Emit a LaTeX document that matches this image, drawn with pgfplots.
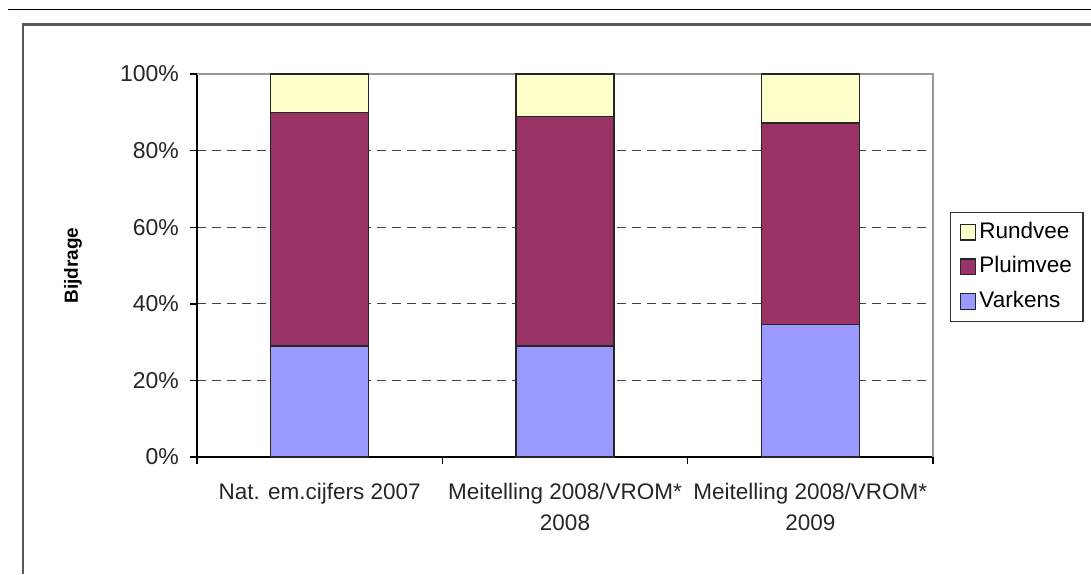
\documentclass[border=0pt]{standalone}
\usepackage{fontspec}
\setmainfont{Liberation Sans}
\usepackage{pgfplots}
\pgfplotsset{compat=1.18}
\definecolor{varkens}{HTML}{9999FF}
\definecolor{pluim}{HTML}{993366}
\definecolor{rund}{HTML}{FFFFCC}
\begin{document}
\begin{tikzpicture}
\useasboundingbox (0,0) rectangle (545.5pt,-287pt);
\draw[black, line width=0.9pt] (4pt,-4.75pt) -- (545.5pt,-4.75pt);
\draw[black!65, line width=1.1pt] (11.5pt,-287pt) -- (11.5pt,-12.25pt) -- (545.5pt,-12.25pt);
\begin{axis}[
  at={(98.5pt,-228.5pt)}, anchor=south west,
  scale only axis, width=368pt, height=191.5pt,
  clip=false,
  xmin=-0.5, xmax=2.5, ymin=0, ymax=100,
  axis x line*=bottom, axis y line*=left,
  axis line style={-, black, line width=0.7pt},
  tick align=outside,
  xtick={0,1,2},
  xticklabels={Nat. em.cijfers 2007, Meitelling 2008/VROM*\\2008, Meitelling 2008/VROM*\\2009},
  major x tick style={draw=none},
  minor xtick={-0.5,0.5,1.5,2.5},
  minor tick length=3.5pt, major tick length=3.5pt,
  tick style={black, line width=0.7pt},
  x tick label style={align=center, font=\fontsize{11.25}{15.5}\selectfont, text=black!85, yshift=-6pt},
  ytick={0,20,40,60,80,100},
  yticklabel={\pgfmathprintnumber{\tick}\%},
  y tick label style={font=\fontsize{11.5}{13}\selectfont, text=black!85, xshift=-2pt},
  /pgf/number format/assume math mode=true,
  ymajorgrids,
  grid style={black!75, line width=0.6pt, dash pattern=on 4.5pt off 3pt},
  ylabel={Bijdrage},
  ylabel style={at={(axis description cs:-0.1685,0.5)}, anchor=center, font=\fontsize{9.5}{11}\selectfont\bfseries},
  ybar stacked, bar width=0.4,
  legend style={at={(1.0231,0.6397)}, anchor=north west, draw=black!80, line width=0.6pt,
    font=\fontsize{11.25}{13}\selectfont, inner xsep=4.5pt, inner ysep=3.5pt, row sep=4.6pt,
    nodes={inner sep=1pt, text height=8.2pt, text depth=2.5pt},
    /tikz/every odd column/.append style={column sep=0.5pt}},
  legend cell align=left,
  reverse legend,
  legend image code/.code={\draw[#1, draw=black!85, line width=0.6pt] (0pt,-3.8pt) rectangle (7.8pt,4pt);},
]
\addplot[fill=varkens, draw=black!85, line width=0.6pt] coordinates {(0,29) (1,29) (2,34.7)};
\addplot[fill=pluim, draw=black!85, line width=0.6pt] coordinates {(0,61) (1,60) (2,52.5)};
\addplot[fill=rund, draw=black!85, line width=0.6pt] coordinates {(0,10) (1,11) (2,12.8)};
\legend{Varkens, Pluimvee, Rundvee}
\draw[black!40, line width=0.8pt] (rel axis cs:0,1) -- (rel axis cs:1,1) -- (rel axis cs:1,0);
\end{axis}
\end{tikzpicture}
\end{document}
